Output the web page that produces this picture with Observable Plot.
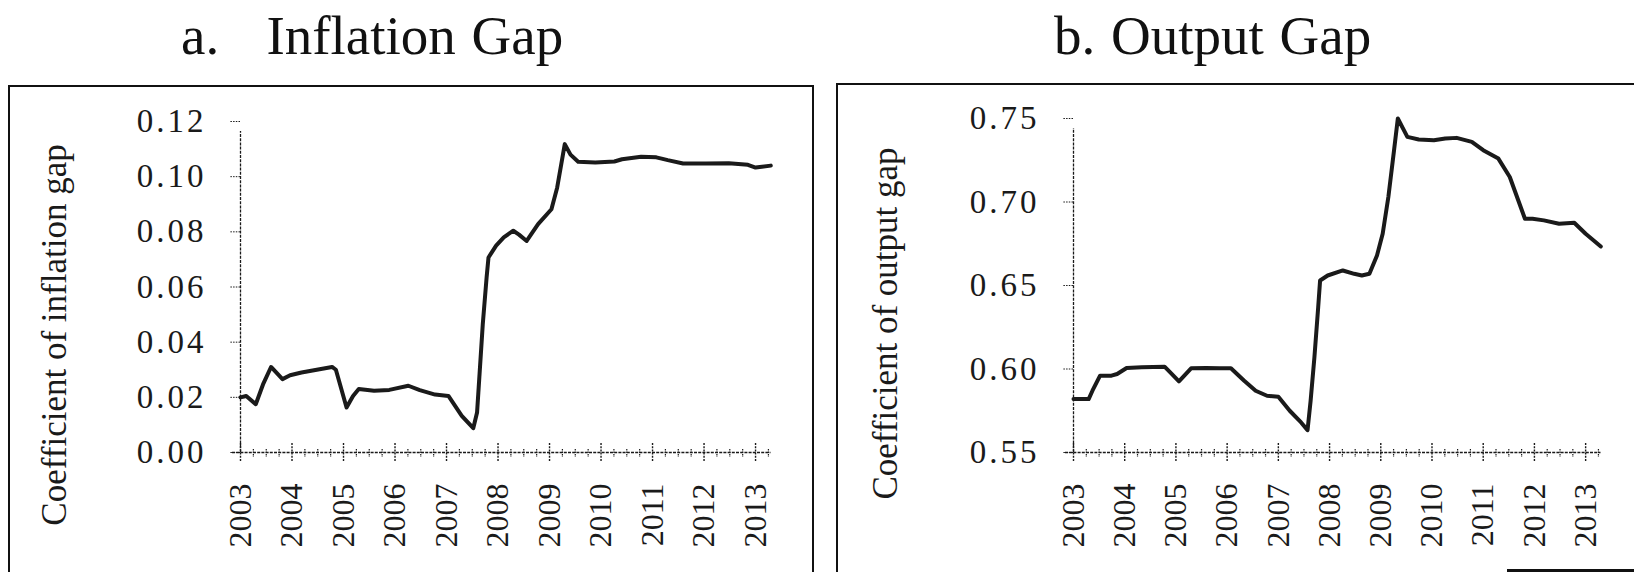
<!DOCTYPE html>
<html>
<head>
<meta charset="utf-8">
<script src="https://cdn.jsdelivr.net/npm/d3@7"></script>
<script src="https://cdn.jsdelivr.net/npm/@observablehq/plot@0.6"></script>
<style>
  html, body { margin: 0; padding: 0; background: #fff; }
  body { width: 1634px; height: 572px; overflow: hidden; position: relative;
         font-family: "Liberation Serif", "Times New Roman", serif; color: #111; }
  .title { position: absolute; font-size: 55px; line-height: 55px; white-space: pre; word-spacing: 2px; }
  .frame { position: absolute; border: 2px solid #111; box-sizing: border-box; }
  .panel { position: absolute; top: 0; }
  .edge { position: absolute; background: #111; }
</style>
</head>
<body>
<div class="frame" style="left:8px;top:85px;width:806px;height:560px"></div>
<div class="frame" style="left:836px;top:83px;width:830px;height:560px"></div>
<div class="edge" style="left:1507px;top:569px;width:127px;height:3px"></div>
<div class="title" id="title-a" style="left:181px;top:8px"></div>
<div class="title" id="title-b" style="left:1054px;top:8px"></div>
<div class="panel" id="panel-a" style="left:0px"></div>
<div class="panel" id="panel-b" style="left:840px"></div>
<script>
// ---------- data ----------
const titleA = "a.   Inflation Gap";
const titleB = "b. Output Gap";
const yLabelA = "Coefficient of inflation gap";
const yLabelB = "Coefficient of output gap";

const years = [2003, 2004, 2005, 2006, 2007, 2008, 2009, 2010, 2011, 2012, 2013];
const quarterTicks = years.flatMap(y => [y + 0.25, y + 0.5, y + 0.75]).filter(t => t < 2013.3);

const inflationTicks = [0.00, 0.02, 0.04, 0.06, 0.08, 0.10, 0.12];
const outputTicks = [0.55, 0.60, 0.65, 0.70, 0.75];

// inflation gap coefficient: time (decimal year) and value
const inflationTime = [
  2003.000, 2003.111, 2003.296, 2003.444, 2003.593, 2003.815, 2003.963, 2004.185,
  2004.481, 2004.778, 2004.852, 2005.059, 2005.185, 2005.296, 2005.593, 2005.889,
  2006.259, 2006.481, 2006.778, 2007.037, 2007.296, 2007.519, 2007.593, 2007.704,
  2007.778, 2007.815, 2007.963, 2008.111, 2008.296, 2008.407, 2008.556, 2008.778,
  2009.037, 2009.148, 2009.296, 2009.407, 2009.556, 2009.889, 2010.259, 2010.407,
  2010.778, 2011.074, 2011.296, 2011.593, 2012.037, 2012.481, 2012.852, 2013.000,
  2013.296
];
const inflationValue = [
  0.0200, 0.0205, 0.0175, 0.0250, 0.0310, 0.0266, 0.0280, 0.0290,
  0.0300, 0.0310, 0.0300, 0.0163, 0.0205, 0.0230, 0.0224, 0.0227,
  0.0242, 0.0226, 0.0210, 0.0205, 0.0133, 0.0088, 0.0145, 0.0465,
  0.0634, 0.0707, 0.0750, 0.0780, 0.0804, 0.0790, 0.0767, 0.0828,
  0.0882, 0.0960, 0.1118, 0.1080, 0.1054, 0.1051, 0.1055, 0.1063,
  0.1072, 0.1070, 0.1060, 0.1048, 0.1048, 0.1049, 0.1043, 0.1033,
  0.1040
];

// output gap coefficient: time (decimal year) and value
const outputTime = [
  2003.000, 2003.296, 2003.370, 2003.519, 2003.741, 2003.852, 2004.037, 2004.333,
  2004.778, 2004.889, 2005.059, 2005.296, 2005.593, 2005.852, 2006.074, 2006.333,
  2006.556, 2006.778, 2007.000, 2007.222, 2007.444, 2007.570, 2007.630, 2007.704,
  2007.778, 2007.815, 2007.963, 2008.259, 2008.481, 2008.630, 2008.778, 2008.926,
  2009.037, 2009.148, 2009.259, 2009.333, 2009.519, 2009.741, 2010.037, 2010.259,
  2010.481, 2010.778, 2011.000, 2011.296, 2011.519, 2011.815, 2011.963, 2012.185,
  2012.481, 2012.778, 2013.000, 2013.296
];
const outputValue = [
  0.582, 0.582, 0.587, 0.596, 0.596, 0.597, 0.6006, 0.601,
  0.6014, 0.598, 0.5926, 0.6004, 0.6006, 0.6004, 0.6004, 0.593,
  0.587, 0.584, 0.5834, 0.575, 0.568, 0.5634, 0.581, 0.607,
  0.637, 0.653, 0.656, 0.659, 0.657, 0.656, 0.657, 0.668,
  0.681, 0.703, 0.731, 0.750, 0.739, 0.7374, 0.737, 0.738,
  0.7384, 0.736, 0.731, 0.726, 0.715, 0.690, 0.690, 0.689,
  0.687, 0.6876, 0.681, 0.6734
];

// ---------- drawing ----------
document.getElementById("title-a").textContent = titleA;
document.getElementById("title-b").textContent = titleB;

const FONT = "Liberation Serif";
const INK = "#1a1a1a";

function makePanel({width, marginLeft, marginRight, marginTop, marginBottom,
                    yDomain, yTicks, time, value, yLabel, labelDx, labelDy}) {
  const height = 572;
  const fh = height - marginTop - marginBottom;
  const xDomain = [2003, 2013.3];
  const idx = d3.range(time.length);
  const svg = Plot.plot({
    width, height, marginLeft, marginRight, marginTop, marginBottom,
    style: {fontFamily: FONT, background: "transparent", color: INK, overflow: "visible"},
    x: {domain: xDomain, axis: null},
    y: {domain: yDomain, axis: null},
    marks: [
      // axis lines
      Plot.ruleX([xDomain[0]], {y1: yDomain[0], y2: yDomain[1], insetBottom: -10, stroke: INK, strokeWidth: 1.3, strokeDasharray: "3,1.2"}),
      Plot.ruleY([yDomain[0]], {x1: xDomain[0], x2: xDomain[1], insetLeft: -8, stroke: INK, strokeWidth: 1.3, strokeDasharray: "3,1.2"}),
      // x ticks (major years, minor quarters) crossing the axis
      Plot.tickX(years, {x: d => d, insetTop: fh - 9, insetBottom: -9, stroke: INK, strokeWidth: 1.4, strokeDasharray: "2,1.2"}),
      Plot.tickX(quarterTicks, {x: d => d, insetTop: fh - 3, insetBottom: -5, stroke: INK, strokeWidth: 1.2, strokeDasharray: "1.5,1"}),
      // y axis ticks and labels
      Plot.axisY({ticks: yTicks, tickFormat: d3.format(".2f"), tickSize: 10, tickPadding: 24,
                  fontSize: 33, stroke: INK, strokeDasharray: "1.5,1.2", label: null}),
      // x axis year labels
      Plot.axisX({ticks: years, tickFormat: d => String(d), tickSize: 0, tickPadding: 31,
                  tickRotate: -90, fontSize: 32, label: null}),
      // y axis title
      Plot.text([yLabel], {text: d => d, frameAnchor: "left", textAnchor: "middle", lineAnchor: "middle",
                           rotate: -90, dx: labelDx, dy: labelDy, fontSize: 35, fill: INK}),
      // data line
      Plot.line(idx, {x: i => time[i], y: i => value[i], stroke: INK, strokeWidth: 4,
                      strokeLinejoin: "round", curve: "linear"})
    ]
  });
  svg.querySelectorAll('g[aria-label="y-axis tick label"] text').forEach(t => {
    t.style.letterSpacing = "3px";
  });
  return svg;
}

document.getElementById("panel-a").appendChild(makePanel({
  width: 830, marginLeft: 240, marginRight: 59.5, marginTop: 121, marginBottom: 120,
  yDomain: [0, 0.12], yTicks: inflationTicks, time: inflationTime, value: inflationValue,
  yLabel: yLabelA, labelDx: -186, labelDy: 48
}));

document.getElementById("panel-b").appendChild(makePanel({
  width: 794, marginLeft: 233, marginRight: 33.5, marginTop: 118, marginBottom: 120,
  yDomain: [0.55, 0.75], yTicks: outputTicks, time: outputTime, value: outputValue,
  yLabel: yLabelB, labelDx: -188, labelDy: 38
}));
</script>
</body>
</html>
